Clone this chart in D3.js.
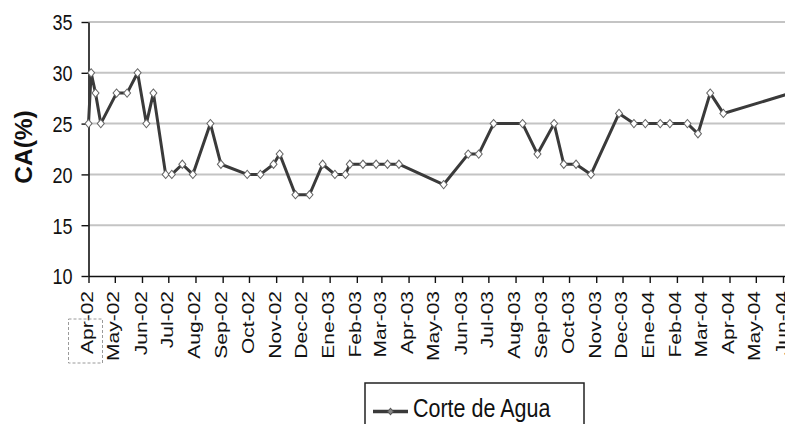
<!DOCTYPE html>
<html>
<head>
<meta charset="utf-8">
<script src="https://cdn.jsdelivr.net/npm/d3@7"></script>
<style>
  html, body { margin: 0; padding: 0; background: #fff; }
  svg { display: block; font-family: "Liberation Sans", Arial, sans-serif; }
</style>
</head>
<body>
<svg id="chart" width="785" height="424"></svg>
<script>
// Water cut (Corte de Agua) sampling dates and values, %
const sampleDates = [
  "2002-04-01","2002-04-04","2002-04-09","2002-04-15","2002-05-03","2002-05-15",
  "2002-05-27","2002-06-06","2002-06-14","2002-06-28","2002-07-05","2002-07-17",
  "2002-07-29","2002-08-18","2002-08-30","2002-09-29","2002-10-14","2002-10-29",
  "2002-11-05","2002-11-23","2002-12-09","2002-12-24","2003-01-07","2003-01-19",
  "2003-01-24","2003-02-08","2003-02-23","2003-03-08","2003-03-21","2003-05-11",
  "2003-06-08","2003-06-20","2003-07-07","2003-08-09","2003-08-26","2003-09-14",
  "2003-09-25","2003-10-09","2003-10-26","2003-11-27","2003-12-14","2003-12-27",
  "2004-01-13","2004-01-24","2004-02-13","2004-02-25","2004-03-10","2004-03-25",
  "2004-06-10"
];
const waterCut = [
  25, 30, 28, 25, 28, 28,
  30, 25, 28, 20, 20, 21,
  20, 25, 21, 20, 20, 21,
  22, 18, 18, 21, 20, 20,
  21, 21, 21, 21, 21, 19,
  22, 22, 25, 25, 22, 25,
  21, 21, 20, 26, 25, 25,
  25, 25, 25, 24, 28, 26,
  28
];

// Monthly axis labels
const monthLabels = [
  "Apr-02","May-02","Jun-02","Jul-02","Aug-02","Sep-02","Oct-02","Nov-02","Dec-02",
  "Ene-03","Feb-03","Mar-03","Apr-03","May-03","Jun-03","Jul-03","Aug-03","Sep-03",
  "Oct-03","Nov-03","Dec-03","Ene-04","Feb-04","Mar-04","Apr-04","May-04","Jun-04"
];
const yTicks = [10, 15, 20, 25, 30, 35];
const seriesName = "Corte de Agua";
const yTitle = "CA(%)";

const parse = d3.utcParse("%Y-%m-%d");
const points = sampleDates.map((d, i) => ({ date: parse(d), value: waterCut[i] }));
const tickDates = monthLabels.map((_, i) => d3.utcMonth.offset(parse("2002-04-01"), i));

const svg = d3.select("#chart");
const pxPerDay = (783 - 88.5) / 792;
const xStart = parse("2002-04-01"), xEnd = parse("2004-07-01");
const x = d3.scaleUtc()
  .domain([xStart, xEnd])
  .range([88.5, 88.5 + pxPerDay * (xEnd - xStart) / 864e5]);
const y = d3.scaleLinear().domain([10, 35]).range([276, 22]);

// Horizontal gridlines
svg.append("g")
  .selectAll("line")
  .data(yTicks.filter(v => v > 10))
  .join("line")
  .attr("x1", x.range()[0]).attr("x2", x.range()[1])
  .attr("y1", d => y(d)).attr("y2", d => y(d))
  .attr("stroke", "#c4c4c4").attr("stroke-width", 2);

// Y axis
const yAxis = svg.append("g")
  .attr("transform", `translate(${x.range()[0]},0)`)
  .call(d3.axisLeft(y).tickValues(yTicks).tickSize(7).tickSizeOuter(0));
yAxis.select(".domain").attr("stroke", "#111").attr("stroke-width", 1.6);
yAxis.selectAll(".tick line").attr("stroke", "#111").attr("stroke-width", 1.4);
yAxis.selectAll(".tick text")
  .attr("x", null).attr("dy", "0.36em")
  .attr("transform", "translate(-16,0) scale(0.82,1)")
  .attr("text-anchor", "end")
  .attr("fill", "#111")
  .style("font-size", "22px");

// X axis
const xAxis = svg.append("g")
  .attr("transform", `translate(0,${y(10)})`)
  .call(d3.axisBottom(x).tickValues(tickDates)
    .tickFormat((d, i) => monthLabels[i]).tickSize(7).tickSizeOuter(0));
xAxis.select(".domain").attr("stroke", "#111").attr("stroke-width", 1.6);
xAxis.selectAll(".tick line").attr("stroke", "#111").attr("stroke-width", 1.4);
xAxis.selectAll(".tick text")
  .attr("y", null).attr("dy", "0.3em")
  .attr("transform", "translate(-1,15) scale(0.8,1) rotate(-90)")
  .attr("text-anchor", "end")
  .attr("fill", "#111")
  .style("font-size", "21px");

// Dashed selection frame around the first month label
svg.append("rect")
  .attr("x", x(tickDates[0]) - 20).attr("y", 319)
  .attr("width", 34).attr("height", 44)
  .attr("fill", "none").attr("stroke", "#9a9a9a")
  .attr("stroke-width", 1).attr("stroke-dasharray", "3,2");

// Y axis title
svg.append("text")
  .attr("transform", `translate(31.5,${(y(10) + y(35)) / 2 - 2}) rotate(-90)`)
  .attr("text-anchor", "middle")
  .attr("font-weight", "bold")
  .attr("fill", "#111")
  .style("font-size", "24.5px")
  .text(yTitle);

// Series line and markers
const line = d3.line().x(d => x(d.date)).y(d => y(d.value));
svg.append("path")
  .datum(points)
  .attr("d", line)
  .attr("fill", "none")
  .attr("stroke", "#3a3a3a")
  .attr("stroke-width", 3)
  .attr("stroke-linejoin", "round");

const marker = d3.symbol().type(d3.symbolSquare).size(34);
svg.append("g")
  .selectAll("path")
  .data(points)
  .join("path")
  .attr("d", marker)
  .attr("transform", d => `translate(${x(d.date)},${y(d.value)}) scale(0.85,1) rotate(45)`)
  .attr("fill", "#fff")
  .attr("stroke", "#666")
  .attr("stroke-width", 1.1);

// Legend
const lg = svg.append("g");
lg.append("rect")
  .attr("x", 365).attr("y", 383).attr("width", 219).attr("height", 60)
  .attr("fill", "#fff").attr("stroke", "#222").attr("stroke-width", 1.5);
lg.append("line")
  .attr("x1", 373).attr("x2", 408).attr("y1", 411.5).attr("y2", 411.5)
  .attr("stroke", "#3a3a3a").attr("stroke-width", 3.5);
lg.append("path")
  .attr("d", d3.symbol().type(d3.symbolSquare).size(22))
  .attr("transform", "translate(390.5,411.5) scale(0.85,1) rotate(45)")
  .attr("fill", "#888").attr("stroke", "#555").attr("stroke-width", 1);
lg.append("text")
  .attr("transform", "translate(413,417) scale(0.86,1)")
  .attr("fill", "#111")
  .style("font-size", "25px")
  .text(seriesName);
</script>
</body>
</html>
